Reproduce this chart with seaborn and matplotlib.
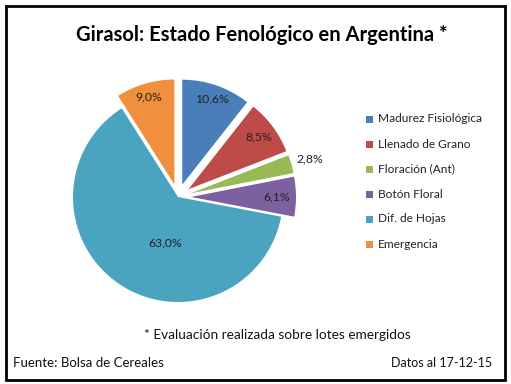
import math
import matplotlib
matplotlib.use("Agg")
import matplotlib.pyplot as plt
import seaborn as sns
from matplotlib.patches import Rectangle

categories = ["Madurez Fisiológica", "Llenado de Grano", "Floración (Ant)",
              "Botón Floral", "Dif. de Hojas", "Emergencia"]
shares = [10.6, 8.5, 2.8, 6.1, 63.0, 9.0]
slice_colors = ["#4A7EBB", "#BE4B48", "#98B954", "#7D60A0", "#4AA3BF", "#F0903F"]

title = "Girasol: Estado Fenológico en Argentina *"
note = "* Evaluación realizada sobre lotes emergidos"
source = "Fuente: Bolsa de Cereales"
date_txt = "Datos al 17-12-15"

sns.set_theme(style="white")
plt.rcParams['font.family'] = ['Lato', 'DejaVu Sans']

W, H = 511, 384
fig = plt.figure(figsize=(W / 100, H / 100), dpi=100)
ax = fig.add_axes([0, 0, 1, 1])

# pie drawn in pixel coordinates (y up)
cx, cy, r = 178, H - 197, 105
explode = [0 if c == "Dif. de Hojas" else 13 for c in categories]
wedges, texts, autotexts = ax.pie(
    shares, colors=slice_colors, startangle=90, counterclock=False,
    center=(cx, cy), radius=r, explode=explode,
    autopct=lambda p: f"{p:.1f}%".replace(".", ","), pctdistance=0.85,
    wedgeprops=dict(linewidth=0), textprops=dict(fontsize=8.8, color="#222222"))

# label distances like Excel's layout
pct_dist = [0.86, 0.83, 1.18, 0.82, 0.47, 0.87]
for w, t, d, e in zip(wedges, autotexts, pct_dist, explode):
    th = math.radians((w.theta1 + w.theta2) / 2)
    x0 = cx + e * math.cos(th)
    y0 = cy + e * math.sin(th)
    t.set_position((x0 + d * r * math.cos(th), y0 + d * r * math.sin(th)))
autotexts[4].set_position((165, H - 243))

ax.set_xlim(0, W)
ax.set_ylim(0, H)
ax.set_aspect("equal")
ax.axis("off")

# border
ax.add_patch(Rectangle((5.5, H - 380), 499.5, 374.5, fill=False,
                       edgecolor="black", linewidth=2))

ax.text(262, H - 35, title, ha="center", va="center", fontsize=14.5,
        fontweight="bold", color="black")

# legend
for i, (c, col) in enumerate(zip(categories, slice_colors)):
    y = H - (119 + 25 * i)
    ax.add_patch(Rectangle((366, y - 3.5), 7, 7, color=col, linewidth=0))
    ax.text(378, y, c, ha="left", va="center", fontsize=8.6, color="#222222")

ax.text(277, H - 335, note, ha="center", va="center", fontsize=9.8, color="#111111")
ax.text(13, H - 363, source, ha="left", va="center", fontsize=9.5, color="#111111")
ax.text(492, H - 363, date_txt, ha="right", va="center", fontsize=9, color="#111111")

fig.savefig("out.png", dpi=100, facecolor="white")
